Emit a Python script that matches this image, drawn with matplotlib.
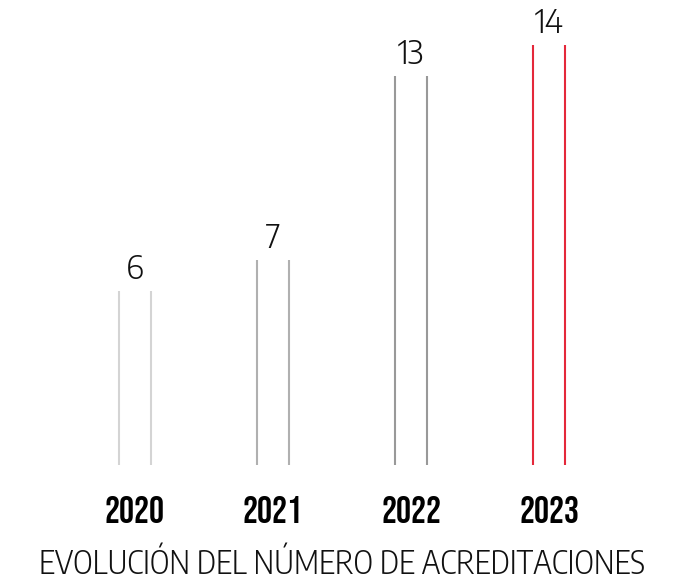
import matplotlib
matplotlib.use("Agg")
import matplotlib.pyplot as plt

# data
years = ["2020", "2021", "2022", "2023"]
acreditaciones = [6, 7, 13, 14]
bar_colors = ["#d4d4d4", "#b0b0b0", "#999999", "#e4283a"]
title = "EVOLUCIÓN DEL NÚMERO DE ACREDITACIONES"

W, H = 691, 584
fig = plt.figure(figsize=(W / 100, H / 100), dpi=100)

# axes placed in pixels: bar centres at 135..549 px, 138 px apart
ax = fig.add_axes([66 / W, 119 / H, 552 / W, 463 / H])
ax.set_xlim(-0.5, 3.5)
ax.set_ylim(0.34, 15.4)
ax.axis("off")

light = ["Encode Sans Semi Condensed", "DejaVu Sans"]
half = 0.116
for i, (v, c) in enumerate(zip(acreditaciones, bar_colors)):
    ax.vlines([i - half, i + half], 0, v, colors=c, linewidth=1.5)
    ax.annotate(str(v), (i, v), xytext=(0, 8.5), textcoords="offset points",
                ha="center", va="baseline", fontsize=24,
                family=light, fontweight=300, color="#111111")
    # year labels sit on a baseline at 523 px from the top
    ax.annotate(years[i], (i, 0), xycoords=("data", "figure fraction"),
                xytext=(0, (H - 523) * 0.72), textcoords="offset points",
                ha="center", va="baseline", fontsize=27,
                family=["Bebas Neue", "DejaVu Sans"], color="#000000")

fig.text(342 / W, 10 / H, title, ha="center", va="baseline", fontsize=23.4,
         family=["Encode Sans Condensed", "DejaVu Sans"], fontweight=300,
         color="#111111")

fig.savefig("out.png", dpi=100)
